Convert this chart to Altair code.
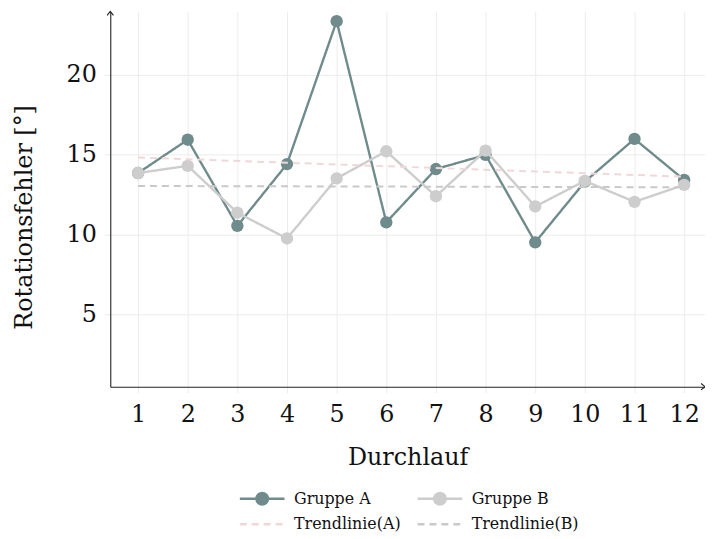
import altair as alt
import pandas as pd

# ---- data ----
RUNS = list(range(1, 13))
GRUPPE_A = [13.85, 15.93, 10.55, 14.41, 23.34, 10.77, 14.10, 14.98, 9.52, 13.31, 15.98, 13.42]
GRUPPE_B = [13.85, 14.30, 11.37, 9.76, 13.52, 15.21, 12.40, 15.25, 11.76, 13.36, 12.05, 13.11]
TREND_RUNS = [1, 12]
TREND_A = [14.82, 13.62]
TREND_B = [13.04, 12.96]
SERIES = ["Gruppe A", "Gruppe B", "Trendlinie(A)", "Trendlinie(B)"]
X_TICKS = RUNS
Y_TICKS = [5, 10, 15, 20]
X_DOMAIN = [0.44, 12.42]
Y_DOMAIN = [0.5, 23.95]

# ---- styles ----
COLORS = ["#6f8b8b", "#cdcdcd", "#f0d8d9", "#c9c9c9"]
DASHES = [[1, 0], [1, 0], [7, 5], [7, 5]]
SYM_GROUP = ("M-3.0909,0L1,0M-0.5227,0A0.5227,0.5227,0,1,1,-1.5682,0"
             "A0.5227,0.5227,0,1,1,-0.5227,0Z")
SYM_TREND = "M-3.0909,0L1,0"
SHAPES = [SYM_GROUP, SYM_GROUP, SYM_TREND, SYM_TREND]
ARROW_R = "M-1,-0.8L0,0L-1,0.8"
ARROW_U = "M-0.8,1L0,0L0.8,1"
FONT = "DejaVu Serif"

groups = pd.DataFrame({
    "run": RUNS * 2,
    "value": GRUPPE_A + GRUPPE_B,
    "series": [SERIES[0]] * len(RUNS) + [SERIES[1]] * len(RUNS),
})
trend = pd.DataFrame({
    "run": TREND_RUNS * 2,
    "value": TREND_A + TREND_B,
    "series": [SERIES[2]] * 2 + [SERIES[3]] * 2,
})
arrow_r = pd.DataFrame({"run": [X_DOMAIN[1]], "value": [Y_DOMAIN[0]]})
arrow_u = pd.DataFrame({"run": [X_DOMAIN[0]], "value": [Y_DOMAIN[1]]})

LEG = alt.Legend(
    title=None, orient="none", legendX=152, legendY=478,
    direction="horizontal", columns=2, padding=0,
    labelFont=FONT, labelFontSize=16, labelColor="#111",
    symbolSize=484, symbolStrokeWidth=2.5, labelOffset=8,
    columnPadding=11, rowPadding=2,
)

X = alt.X("run:Q",
          scale=alt.Scale(domain=X_DOMAIN, nice=False, zero=False),
          axis=alt.Axis(values=X_TICKS, title="Durchlauf", format="d",
                        titleY=71, titleBaseline="middle",
                        labelPadding=10))
Y = alt.Y("value:Q",
          scale=alt.Scale(domain=Y_DOMAIN, nice=False, zero=False),
          axis=alt.Axis(values=Y_TICKS, title="Rotationsfehler [°]",
                        titleX=-86, titleY=207, titleAngle=270,
                        titleBaseline="middle", titleAlign="center",
                        labelPadding=8))
COLOR = alt.Color("series:N", scale=alt.Scale(domain=SERIES, range=COLORS), legend=LEG)
DASH = alt.StrokeDash("series:N", scale=alt.Scale(domain=SERIES, range=DASHES), legend=LEG)
SHAPE = alt.Shape("series:N", scale=alt.Scale(domain=SERIES, range=SHAPES), legend=LEG)

base = alt.Chart(groups)

def line_of(name):
    return base.transform_filter(alt.datum.series == name).mark_line(
        strokeWidth=2.4).encode(x=X, y=Y, color=COLOR, strokeDash=DASH)

def points_of(name):
    return base.transform_filter(alt.datum.series == name).mark_point(
        filled=True, size=155, opacity=1).encode(x=X, y=Y, color=COLOR)

trend_lines = alt.Chart(trend).mark_line(strokeWidth=2).encode(
    x=X, y=Y, color=COLOR, strokeDash=DASH)

legend_shapes = base.transform_filter("false").mark_point(opacity=1).encode(
    x=X, y=Y, color=COLOR, shape=SHAPE)

arr_r = alt.Chart(arrow_r).mark_point(
    shape=ARROW_R, size=64, filled=False, stroke="#222", strokeWidth=1.1, opacity=1
).encode(x=X, y=Y)
arr_u = alt.Chart(arrow_u).mark_point(
    shape=ARROW_U, size=64, filled=False, stroke="#222", strokeWidth=1.1, opacity=1
).encode(x=X, y=Y)

chart = alt.layer(
    line_of(SERIES[0]), points_of(SERIES[0]),
    line_of(SERIES[1]), points_of(SERIES[1]),
    trend_lines, legend_shapes, arr_r, arr_u,
).properties(
    width=599, height=378,
    padding={"left": 103, "top": 1.5, "right": 0, "bottom": 151},
    autosize=alt.AutoSizeParams(type="none"),
).configure_view(
    stroke=None
).configure_axis(
    grid=True, gridColor="#ececec", gridWidth=1,
    tickColor="#ececec", tickSize=6, tickWidth=1,
    domainColor="#222", domainWidth=1.1,
    labelFont=FONT, labelFontSize=24, labelColor="#111",
    titleFont=FONT, titleFontSize=24, titleFontWeight="normal", titleColor="#111",
).configure_legend(
    symbolOpacity=1
)

chart.save("out.html", embed_options={"renderer": "svg", "actions": False})
